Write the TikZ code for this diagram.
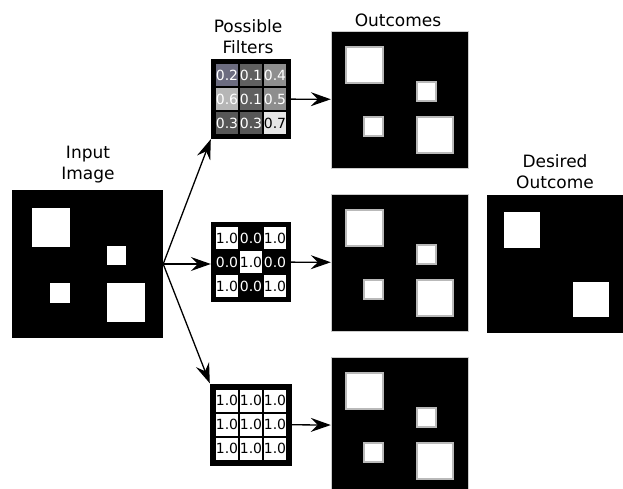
\documentclass[tikz,border=0pt]{standalone}
\usepackage{fontspec}
\setmainfont{DejaVu Sans}
\usetikzlibrary{arrows.meta,positioning}

\definecolor{g1}{HTML}{606060}
\definecolor{g2}{HTML}{6C6C80}
\definecolor{g3}{HTML}{575757}
\definecolor{g4}{HTML}{8E8E8E}
\definecolor{g5}{HTML}{8E8E8E}
\definecolor{g6}{HTML}{B6B6B6}
\definecolor{g7}{HTML}{E6E6E6}

\tikzset{
	imgbox/.style={fill=black, inner sep=0pt, minimum width=137pt, minimum height=137pt},
	filterbox/.style={fill=black, inner sep=0pt, minimum size=80pt},
	cell/.style={inner sep=0pt, minimum size=22pt, font=\fontsize{14}{16}\selectfont},
	title/.style={align=center, font=\fontsize{17}{21}\selectfont},
	sharp/.style={fill=white},
	blurred/.style={fill=white, draw=gray!55, line width=1.5pt},
	link/.style={line width=1.3pt, -{Stealth[length=20pt, width=14pt, inset=7pt]}}
}

\begin{document}
\begin{tikzpicture}[x=1pt, y=-1pt]
\useasboundingbox (0,0) rectangle (623,489);

\node [imgbox, minimum width=151pt, minimum height=148pt] (in) at (87.5,264) {};
\node [title] (intitle) at (88,165) {Input\\Image};
\fill [sharp] ([shift={(20,18)}]in.north west) rectangle ++(38,39);
\fill [sharp] ([shift={(95,56)}]in.north west) rectangle ++(19,19);
\fill [sharp] ([shift={(38,93)}]in.north west) rectangle ++(20,20);
\fill [sharp] ([shift={(95,93)}]in.north west) rectangle ++(38,39);

\node [filterbox] (f1) at (251,99) {};
\node [filterbox] (f2) at (251,262) {};
\node [filterbox, minimum size=82pt] (f3) at (251,424.5) {};
\node [title] (ftitle) at (248,37) {Possible\\Filters};

\foreach \v/\bg/\fg [count=\k from 0] in {0.2/g2/white, 0.1/g1/white, 0.4/g4/white, 0.6/g6/white, 0.1/g1/white, 0.5/g5/white, 0.3/g3/white, 0.3/g3/white, 0.7/g7/black} {
	\pgfmathsetmacro\cx{mod(\k,3)*24-24}
	\pgfmathsetmacro\cy{int(\k/3)*24-24}
	\node [cell, fill=\bg, text=\fg] (f1-\k) at ([shift={(\cx,\cy)}]f1.center) {\v};
}
\foreach \v/\bg/\fg [count=\k from 0] in {1.0/white/black, 0.0/black/white, 1.0/white/black, 0.0/black/white, 1.0/white/black, 0.0/black/white, 1.0/white/black, 0.0/black/white, 1.0/white/black} {
	\pgfmathsetmacro\cx{mod(\k,3)*24-24}
	\pgfmathsetmacro\cy{int(\k/3)*24-24}
	\node [cell, fill=\bg, text=\fg] (f2-\k) at ([shift={(\cx,\cy)}]f2.center) {\v};
}
\foreach \k in {0,...,8} {
	\pgfmathsetmacro\cx{mod(\k,3)*24-24}
	\pgfmathsetmacro\cy{int(\k/3)*24-24}
	\node [cell, fill=white, text=black] (f3-\k) at ([shift={(\cx,\cy)}]f3.center) {1.0};
}

\node [imgbox, draw=gray!40] (o1) at (399.5,99.5) {};
\node [imgbox, draw=gray!40] (o2) at (399.5,262.5) {};
\node [imgbox, draw=gray!40] (o3) at (399.5,425.5) {};
\node [title] (otitle) at (398,20) {Outcomes};
\foreach \o in {o1,o2,o3} {
	\filldraw [blurred] ([shift={(15,16)}]\o.north west) rectangle ++(37,36);
	\filldraw [blurred] ([shift={(86,51)}]\o.north west) rectangle ++(19,19);
	\filldraw [blurred] ([shift={(33,86)}]\o.north west) rectangle ++(19,19);
	\filldraw [blurred] ([shift={(86,86)}]\o.north west) rectangle ++(36,36);
}

\node [imgbox, minimum width=136pt, minimum height=138pt] (want) at (555,264) {};
\node [title] (wtitle) at (555,172) {Desired\\Outcome};
\fill [sharp] ([shift={(17,17)}]want.north west) rectangle ++(36,36);
\fill [sharp] ([shift={(86,87)}]want.north west) rectangle ++(36,35);

\draw [link] (in.east) -- (f1.south west);
\draw [link] (in.east) -- (f2.west |- in.east);
\draw [link] (in.east) -- (f3.north west);
\draw [link] (f1) -- (o1);
\draw [link] (f2) -- (o2);
\draw [link] (f3) -- (o3);
\end{tikzpicture}
\end{document}
